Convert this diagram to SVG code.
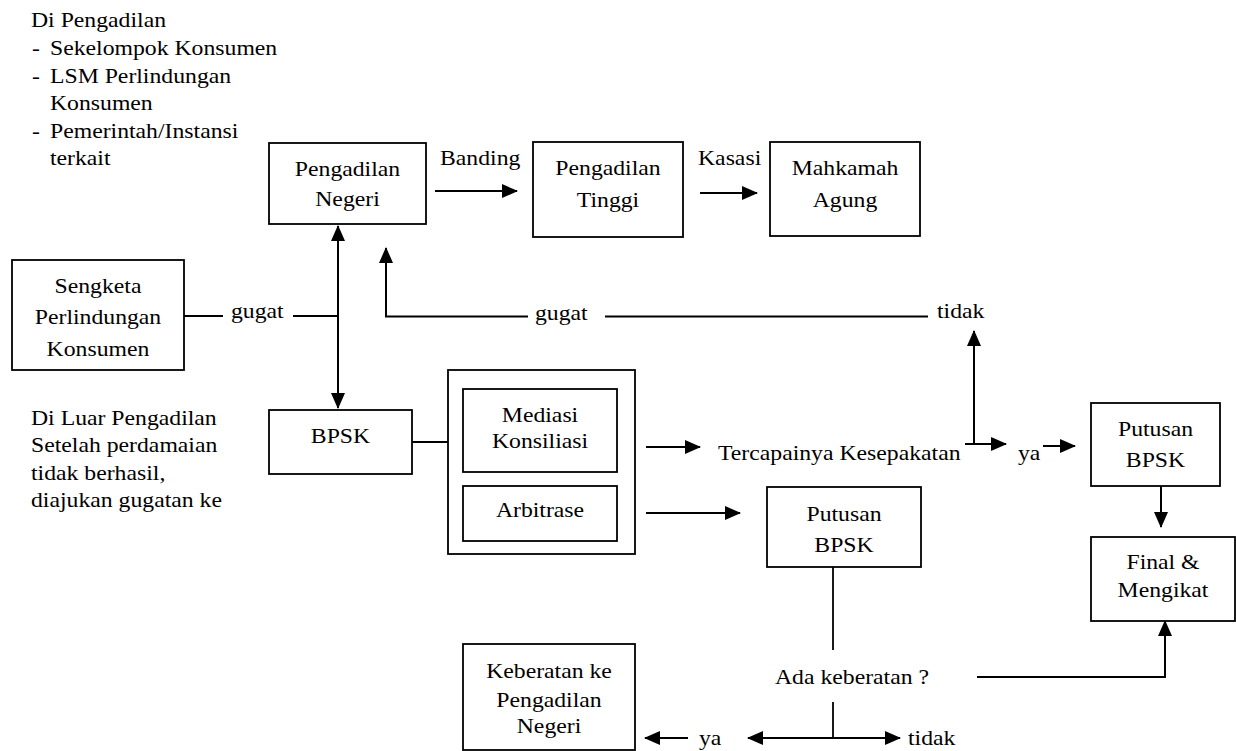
<svg xmlns="http://www.w3.org/2000/svg" width="1236" height="751" viewBox="0 0 1236 751">
<style>
text{font-family:"Liberation Serif","Times New Roman",serif;font-size:21px;fill:#000}
.c{text-anchor:middle}
.box{fill:#fff;stroke:#000;stroke-width:1.8}
.ln{fill:none;stroke:#000;stroke-width:1.8}
.ar{fill:none;stroke:#000;stroke-width:2;marker-end:url(#ah)}
.ar2{fill:none;stroke:#000;stroke-width:2;marker-end:url(#ah);marker-start:url(#ah)}
</style>
<defs>
<marker id="ah" viewBox="0 0 16 14" refX="15" refY="7" markerWidth="16" markerHeight="14" markerUnits="userSpaceOnUse" orient="auto-start-reverse">
<path d="M0,0 L16,7 L0,14 Z" fill="#000"/>
</marker>
</defs>
<rect width="1236" height="751" fill="#fff"/>

<g id="label-di-pengadilan">
<text transform="translate(31,0) scale(1.13,1)">
<tspan x="0" y="27">Di Pengadilan</tspan>
<tspan x="0.9" y="55">-</tspan><tspan x="16.8" y="55">Sekelompok Konsumen</tspan>
<tspan x="0.9" y="83">-</tspan><tspan x="16.8" y="83">LSM Perlindungan</tspan>
<tspan x="16.8" y="110">Konsumen</tspan>
<tspan x="0.9" y="138">-</tspan><tspan x="16.8" y="138">Pemerintah/Instansi</tspan>
<tspan x="16.8" y="165">terkait</tspan>
</text>
</g>

<g id="label-di-luar">
<text transform="translate(31,0) scale(1.13,1)">
<tspan x="0" y="425">Di Luar Pengadilan</tspan>
<tspan x="0" y="452">Setelah perdamaian</tspan>
<tspan x="0" y="480">tidak berhasil,</tspan>
<tspan x="0" y="507">diajukan gugatan ke</tspan>
</text>
</g>

<g id="connectors">
<line class="ar" x1="435" y1="191" x2="517" y2="191"/>
<line class="ar" x1="700" y1="193" x2="757" y2="193"/>
<line class="ln" x1="184" y1="316" x2="223" y2="316"/>
<line class="ln" x1="293" y1="316" x2="338" y2="316"/>
<line class="ar2" x1="338" y1="226" x2="338" y2="408"/>
<line class="ln" x1="605" y1="316.5" x2="928" y2="316.5"/>
<polyline class="ar" points="528,316.5 386,316.5 386,248"/>
<line class="ln" x1="412" y1="442" x2="448" y2="442"/>
<line class="ar" x1="646" y1="447" x2="700" y2="447"/>
<line class="ar" x1="646" y1="513" x2="740" y2="513"/>
<line class="ar" x1="965" y1="444" x2="1006" y2="444"/>
<line class="ar" x1="974" y1="444" x2="974" y2="331"/>
<line class="ar" x1="1043" y1="446" x2="1075" y2="446"/>
<line class="ar" x1="1161" y1="486" x2="1161" y2="527"/>
<polyline class="ar" points="977,677 1165,677 1165,621"/>
<line class="ln" x1="833" y1="567" x2="833" y2="650"/>
<line class="ln" x1="833" y1="702" x2="833" y2="738"/>
<line class="ar2" x1="748" y1="738" x2="900" y2="738"/>
<line class="ar" x1="688" y1="738" x2="645" y2="738"/>
<text x="440" y="165" transform="translate(440,0) scale(1.13,1) translate(-440,0)">Banding</text>
<text x="698" y="165" transform="translate(698,0) scale(1.13,1) translate(-698,0)">Kasasi</text>
<text x="231" y="318" transform="translate(231,0) scale(1.13,1) translate(-231,0)">gugat</text>
<text x="535" y="320" transform="translate(535,0) scale(1.13,1) translate(-535,0)">gugat</text>
<text x="937" y="318" transform="translate(937,0) scale(1.13,1) translate(-937,0)">tidak</text>
<text x="718" y="460" transform="translate(718,0) scale(1.13,1) translate(-718,0)">Tercapainya Kesepakatan</text>
<text x="1018" y="460" transform="translate(1018,0) scale(1.13,1) translate(-1018,0)">ya</text>
<text x="775" y="684" transform="translate(775,0) scale(1.13,1) translate(-775,0)">Ada keberatan ?</text>
<text x="699" y="745" transform="translate(699,0) scale(1.13,1) translate(-699,0)">ya</text>
<text x="908" y="745" transform="translate(908,0) scale(1.13,1) translate(-908,0)">tidak</text>
</g>

<g id="pengadilan-negeri">
<rect class="box" x="269" y="143" width="157" height="81"/>
<text class="c" transform="translate(347.5,0) scale(1.13,1)"><tspan x="0" y="176">Pengadilan</tspan><tspan x="0" y="206">Negeri</tspan></text>
</g>
<g id="pengadilan-tinggi">
<rect class="box" x="533" y="142" width="150" height="95"/>
<text class="c" transform="translate(608,0) scale(1.13,1)"><tspan x="0" y="175">Pengadilan</tspan><tspan x="0" y="207">Tinggi</tspan></text>
</g>
<g id="mahkamah-agung">
<rect class="box" x="770" y="142" width="150" height="94"/>
<text class="c" transform="translate(845,0) scale(1.13,1)"><tspan x="0" y="175">Mahkamah</tspan><tspan x="0" y="207">Agung</tspan></text>
</g>
<g id="sengketa">
<rect class="box" x="12" y="260" width="172" height="110"/>
<text class="c" transform="translate(98,0) scale(1.13,1)"><tspan x="0" y="293">Sengketa</tspan><tspan x="0" y="324">Perlindungan</tspan><tspan x="0" y="356">Konsumen</tspan></text>
</g>
<g id="bpsk">
<rect class="box" x="269" y="410" width="143" height="64"/>
<text class="c" transform="translate(340.5,0) scale(1.13,1)"><tspan x="0" y="443">BPSK</tspan></text>
</g>
<g id="bpsk-methods">
<rect class="box" x="448" y="370" width="187" height="184"/>
</g>
<g id="mediasi">
<rect class="box" x="463" y="389" width="154" height="83"/>
<text class="c" transform="translate(540,0) scale(1.13,1)"><tspan x="0" y="422">Mediasi</tspan><tspan x="0" y="448">Konsiliasi</tspan></text>
</g>
<g id="arbitrase">
<rect class="box" x="463" y="486" width="154" height="55"/>
<text class="c" transform="translate(540,0) scale(1.13,1)"><tspan x="0" y="517">Arbitrase</tspan></text>
</g>
<g id="putusan-bpsk-1">
<rect class="box" x="1091" y="403" width="129" height="83"/>
<text class="c" transform="translate(1155.5,0) scale(1.13,1)"><tspan x="0" y="436">Putusan</tspan><tspan x="0" y="467">BPSK</tspan></text>
</g>
<g id="final-mengikat">
<rect class="box" x="1091" y="537" width="144" height="84"/>
<text class="c" transform="translate(1163,0) scale(1.13,1)"><tspan x="0" y="569">Final &amp;</tspan><tspan x="0" y="597">Mengikat</tspan></text>
</g>
<g id="putusan-bpsk-2">
<rect class="box" x="767" y="487" width="154" height="80"/>
<text class="c" transform="translate(844,0) scale(1.13,1)"><tspan x="0" y="521">Putusan</tspan><tspan x="0" y="552">BPSK</tspan></text>
</g>
<g id="keberatan">
<rect class="box" x="463" y="644" width="172" height="106"/>
<text class="c" transform="translate(549,0) scale(1.13,1)"><tspan x="0" y="678">Keberatan ke</tspan><tspan x="0" y="707">Pengadilan</tspan><tspan x="0" y="733">Negeri</tspan></text>
</g>
</svg>
